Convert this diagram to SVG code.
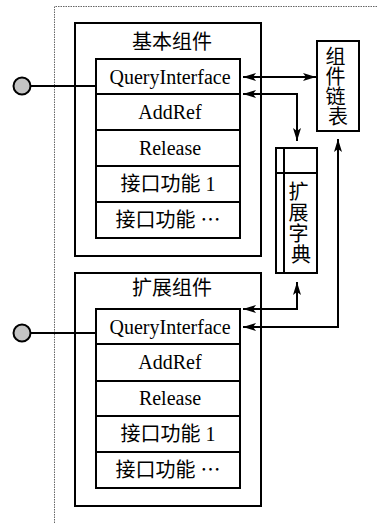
<svg xmlns="http://www.w3.org/2000/svg" width="378" height="523" viewBox="0 0 378 523">
  <style>
    .frame { fill: none; stroke: #666; stroke-width: 1; stroke-dasharray: 1.5 1; }
    .box { fill: #fff; stroke: #000; stroke-width: 2; }
    .sep { stroke: #000; stroke-width: 2; }
    .wire { fill: none; stroke: #000; stroke-width: 2; }
    .port { fill: #c4c4c4; stroke: #000; stroke-width: 2; }
    .lat { font-family: "Liberation Serif", "Times New Roman", serif; font-size: 20px; fill: #000; text-anchor: middle; }
    .cjk { font-family: "Liberation Serif", "Noto Sans CJK SC", sans-serif; font-size: 20px; fill: #000; text-anchor: middle; }
    .dots { font-family: "Noto Sans CJK SC", sans-serif; }
  </style>
  <defs>
    <marker id="arrow" markerUnits="userSpaceOnUse" markerWidth="14" markerHeight="10" refX="13" refY="4" orient="auto-start-reverse">
      <path d="M0,0 L13,4 L0,8 L3,4 Z" fill="#000"/>
    </marker>
  </defs>

  <!-- dotted frame -->
  <path class="frame" d="M54.5,523 V6.5 H378"/>

  <!-- base component -->
  <g id="base-component">
    <rect class="box" x="75" y="23" width="186" height="233"/>
    <text class="cjk" x="172" y="49">基本组件</text>
    <rect class="box" x="96" y="59" width="144" height="179"/>
    <line class="sep" x1="96" y1="94" x2="240" y2="94"/>
    <line class="sep" x1="96" y1="130" x2="240" y2="130"/>
    <line class="sep" x1="96" y1="166" x2="240" y2="166"/>
    <line class="sep" x1="96" y1="202" x2="240" y2="202"/>
    <text class="lat" x="170" y="84">QueryInterface</text>
    <text class="lat" x="170" y="119">AddRef</text>
    <text class="lat" x="170" y="155">Release</text>
    <text class="cjk" x="168" y="191">接口功能 1</text>
    <text class="cjk" x="168" y="227">接口功能 <tspan class="dots">…</tspan></text>
  </g>

  <!-- extension component -->
  <g id="ext-component">
    <rect class="box" x="75" y="273" width="186" height="233"/>
    <text class="cjk" x="172" y="295">扩展组件</text>
    <rect class="box" x="96" y="309" width="144" height="179"/>
    <line class="sep" x1="96" y1="344" x2="240" y2="344"/>
    <line class="sep" x1="96" y1="381" x2="240" y2="381"/>
    <line class="sep" x1="96" y1="416" x2="240" y2="416"/>
    <line class="sep" x1="96" y1="452" x2="240" y2="452"/>
    <text class="lat" x="170" y="334">QueryInterface</text>
    <text class="lat" x="170" y="369">AddRef</text>
    <text class="lat" x="170" y="405">Release</text>
    <text class="cjk" x="168" y="441">接口功能 1</text>
    <text class="cjk" x="168" y="477">接口功能 <tspan class="dots">…</tspan></text>
  </g>

  <!-- component list -->
  <g id="component-list">
    <rect class="box" x="317" y="41" width="42" height="90"/>
    <text class="cjk">
      <tspan x="338" y="64">组</tspan>
      <tspan x="338" y="84">件</tspan>
      <tspan x="338" y="104">链</tspan>
      <tspan x="338" y="124">表</tspan>
    </text>
  </g>

  <!-- extension dictionary -->
  <g id="ext-dictionary">
    <rect class="box" x="276" y="148" width="41" height="125"/>
    <line class="sep" x1="284" y1="148" x2="284" y2="273"/>
    <line class="sep" x1="276" y1="173" x2="317" y2="173"/>
    <text class="cjk">
      <tspan x="301" y="199">扩</tspan>
      <tspan x="301" y="220">展</tspan>
      <tspan x="301" y="241">字</tspan>
      <tspan x="301" y="262">典</tspan>
    </text>
  </g>

  <!-- interface ports -->
  <g id="port-base">
    <circle class="port" cx="22" cy="86" r="8.5"/>
  </g>
  <g id="port-ext">
    <circle class="port" cx="22" cy="333" r="8.5"/>
  </g>

  <!-- connectors -->
  <g id="connectors">
    <line class="wire" x1="30.5" y1="86" x2="96" y2="86"/>
    <line class="wire" x1="30.5" y1="333" x2="96" y2="333"/>
    <line class="wire" x1="243" y1="77" x2="316" y2="77" marker-start="url(#arrow)" marker-end="url(#arrow)"/>
    <polyline class="wire" points="243,94 297,94 297,141" marker-start="url(#arrow)" marker-end="url(#arrow)"/>
    <polyline class="wire" points="297,282 297,309 243,309" marker-start="url(#arrow)" marker-end="url(#arrow)"/>
    <polyline class="wire" points="338,139 338,327 243,327" marker-start="url(#arrow)" marker-end="url(#arrow)"/>
  </g>
</svg>
